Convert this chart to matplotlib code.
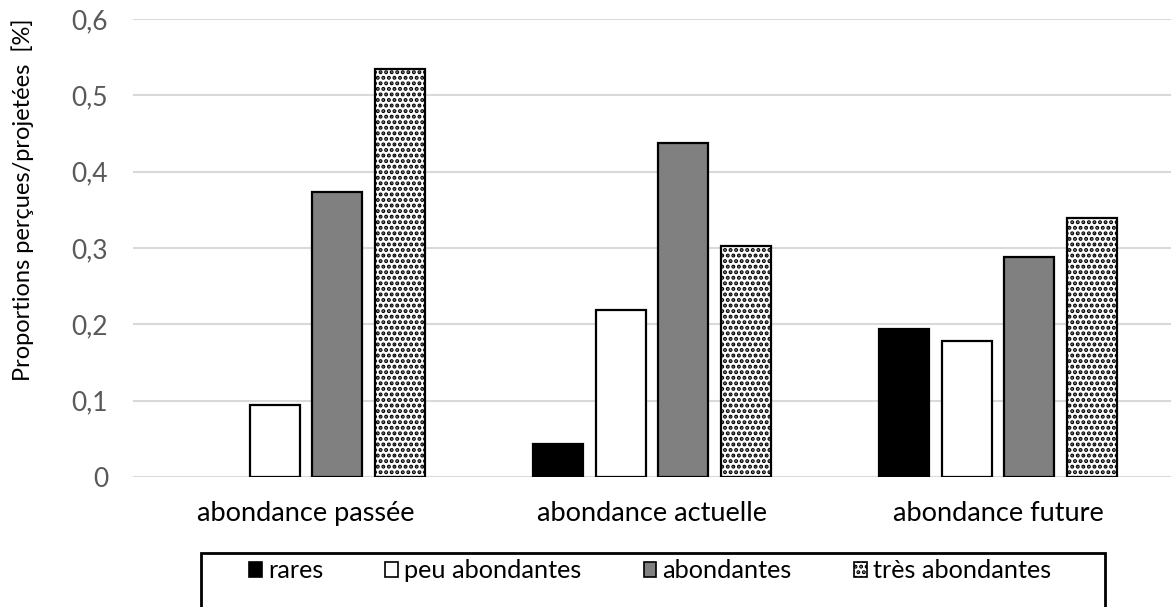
import numpy as np
import matplotlib
matplotlib.use("Agg")
import matplotlib.pyplot as plt
from matplotlib.patches import Patch, Rectangle

plt.rcParams['font.family'] = ['Lato', 'DejaVu Sans']
plt.rcParams['hatch.linewidth'] = 2.0

# data
categories = ['abondance passée', 'abondance actuelle', 'abondance future']
series = ['rares', 'peu abondantes', 'abondantes', 'très abondantes']
rares = [0.0, 0.043, 0.194]
peu_abondantes = [0.094, 0.219, 0.178]
abondantes = [0.373, 0.437, 0.288]
tres_abondantes = [0.534, 0.302, 0.339]
yticks = [0, 0.1, 0.2, 0.3, 0.4, 0.5, 0.6]
ytick_labels = ['0', '0,1', '0,2', '0,3', '0,4', '0,5', '0,6']

values = [rares, peu_abondantes, abondantes, tres_abondantes]
colors = ['black', 'white', '#808080', 'white']
hatches = [None, None, None, '...']
fs = 19.5

fig = plt.figure(figsize=(11.71, 6.07), dpi=100)
ax = fig.add_axes([133 / 1171, 130 / 607, 1038 / 1171, 458 / 607])

x = np.arange(len(categories))
step = 0.1815
width = 0.144
for i, vals in enumerate(values):
    bars = ax.bar(x + (i - 1.5) * step, vals, width, color=colors[i],
                  edgecolor='black', linewidth=1.6, hatch=hatches[i], zorder=3)
    for b in bars:
        if b.get_height() == 0:
            b.set_linewidth(0)

ax.set_xlim(-0.5, 2.5)
ax.set_ylim(0, 0.6)
ax.set_yticks(yticks)
ax.set_yticklabels(ytick_labels, color='#595959', fontsize=19)
ax.set_xticks(x)
ax.set_xticklabels(categories, fontsize=fs, color='black')
ax.tick_params(axis='x', length=0, pad=17)
ax.tick_params(axis='y', length=0, pad=18)
ax.grid(axis='y', color='#d9d9d9', linewidth=1.5, zorder=0)
for s in ax.spines.values():
    s.set_visible(False)

fig.text(23 / 1171, 1 - 200 / 607, 'Proportions perçues/projetées  [%]',
         rotation=90, ha='center', va='center', fontsize=17, color='black')

handles = [Patch(facecolor=colors[i], edgecolor='black', linewidth=1.2,
                 hatch=hatches[i]) for i in range(4)]
fig.legend(handles, series, loc='center', ncol=4,
           bbox_to_anchor=(650 / 1171, 1 - 571 / 607), frameon=False,
           fontsize=18.2, handlelength=0.51, handleheight=0.51,
           handletextpad=0.24, columnspacing=2.45)
fig.patches.append(Rectangle((201 / 1171, -0.05), 904 / 1171, 0.05 + 54 / 607,
                             transform=fig.transFigure, fill=False,
                             edgecolor='black', linewidth=2))

fig.savefig('out.png', dpi=100)
